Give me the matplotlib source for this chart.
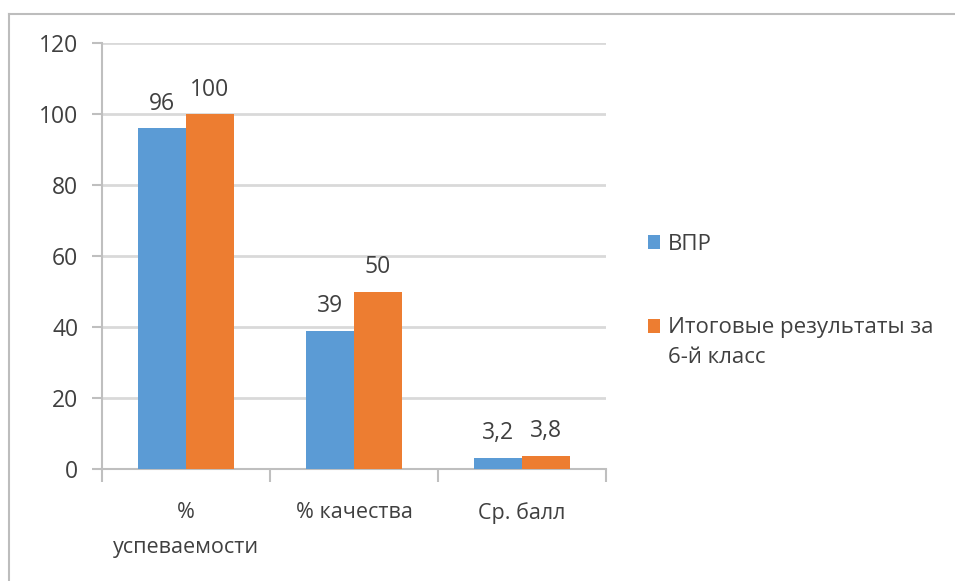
import matplotlib
matplotlib.use('Agg')
import matplotlib.pyplot as plt
from matplotlib.lines import Line2D
from matplotlib.patches import Rectangle
from matplotlib.legend_handler import HandlerPatch
import numpy as np

#Data
categories = ['%\nуспеваемости', '% качества', 'Ср. балл']
vpr_values = [96, 39, 3.2]
final_values = [100, 50, 3.8]
vpr_labels = ['96', '39', '3,2']
final_labels = ['100', '50', '3,8']
series_names = ['ВПР', 'Итоговые результаты за\n6-й класс']
y_ticks = [0, 20, 40, 60, 80, 100, 120]

blue = '#5B9BD5'
orange = '#ED7D31'
text_col = '#404040'
grid_col = '#D9D9D9'

plt.rcParams['font.family'] = ['Open Sans', 'DejaVu Sans']

#Legend square aligned with the first line of a two-line label
def raised_square(legend, orig_handle, xdescent, ydescent, width, height, fontsize):
    return Rectangle((-xdescent, -ydescent + 12), width, height)

fig = plt.figure(figsize=(9.55, 5.81), dpi=100)
ax = fig.add_axes([102/955, 1 - 469/581, (606 - 102)/955, (469 - 43)/581])

#Figure frame (only top and left edges visible)
fx = 8.5/955
fy = 1 - 13.5/581
fig.lines.append(Line2D([fx, 1.0], [fy, fy], transform=fig.transFigure, color='#BDBDBD', linewidth=1.5))
fig.lines.append(Line2D([fx, fx], [0.0, fy], transform=fig.transFigure, color='#BDBDBD', linewidth=1.5))

x = np.arange(len(categories))
w = 0.286
b1 = ax.bar(x - w/2, vpr_values, w, color=blue, zorder=3)
b2 = ax.bar(x + w/2, final_values, w, color=orange, zorder=3)

ax.bar_label(b1, labels=vpr_labels, padding=9, fontsize=16.5, color=text_col)
ax.bar_label(b2, labels=final_labels, padding=9, fontsize=16.5, color=text_col)

ax.set_xlim(-0.5, len(categories) - 0.5)
ax.set_ylim(0, 120)
ax.set_yticks(y_ticks)
ax.yaxis.grid(True, color=grid_col, linewidth=2, zorder=0)
ax.set_axisbelow(True)

#Category labels and boundary ticks
ax.set_xticks(x)
ax.set_xticklabels(categories, fontsize=15.5, color=text_col, linespacing=1.85, va='top')
ax.tick_params(axis='x', length=0, pad=24)
ax.set_xticks(np.arange(len(categories) + 1) - 0.5, minor=True)
ax.tick_params(axis='x', which='minor', length=9, color='#BFBFBF', width=1.5)
ax.tick_params(axis='y', length=7, color='#BFBFBF', width=1.5, labelsize=16.5,
               labelcolor=text_col, pad=10)

for s in ['top', 'right']:
    ax.spines[s].set_visible(False)
for s in ['left', 'bottom']:
    ax.spines[s].set_color('#BFBFBF')
    ax.spines[s].set_linewidth(1.5)

h1 = b1.patches[0]
h2 = b2.patches[0]
leg = ax.legend(handles=[h1, h2], labels=series_names,
                handler_map={h2: HandlerPatch(patch_func=raised_square)},
                loc='center left', bbox_to_anchor=(628/955, 1 - 301/581), bbox_transform=fig.transFigure,
                frameon=False, fontsize=16, labelcolor=text_col, handlelength=0.55, handleheight=0.55,
                handletextpad=0.35, labelspacing=2.8)
for t in leg.get_texts():
    t.set_linespacing(1.55)

fig.savefig('out.png', dpi=100)
